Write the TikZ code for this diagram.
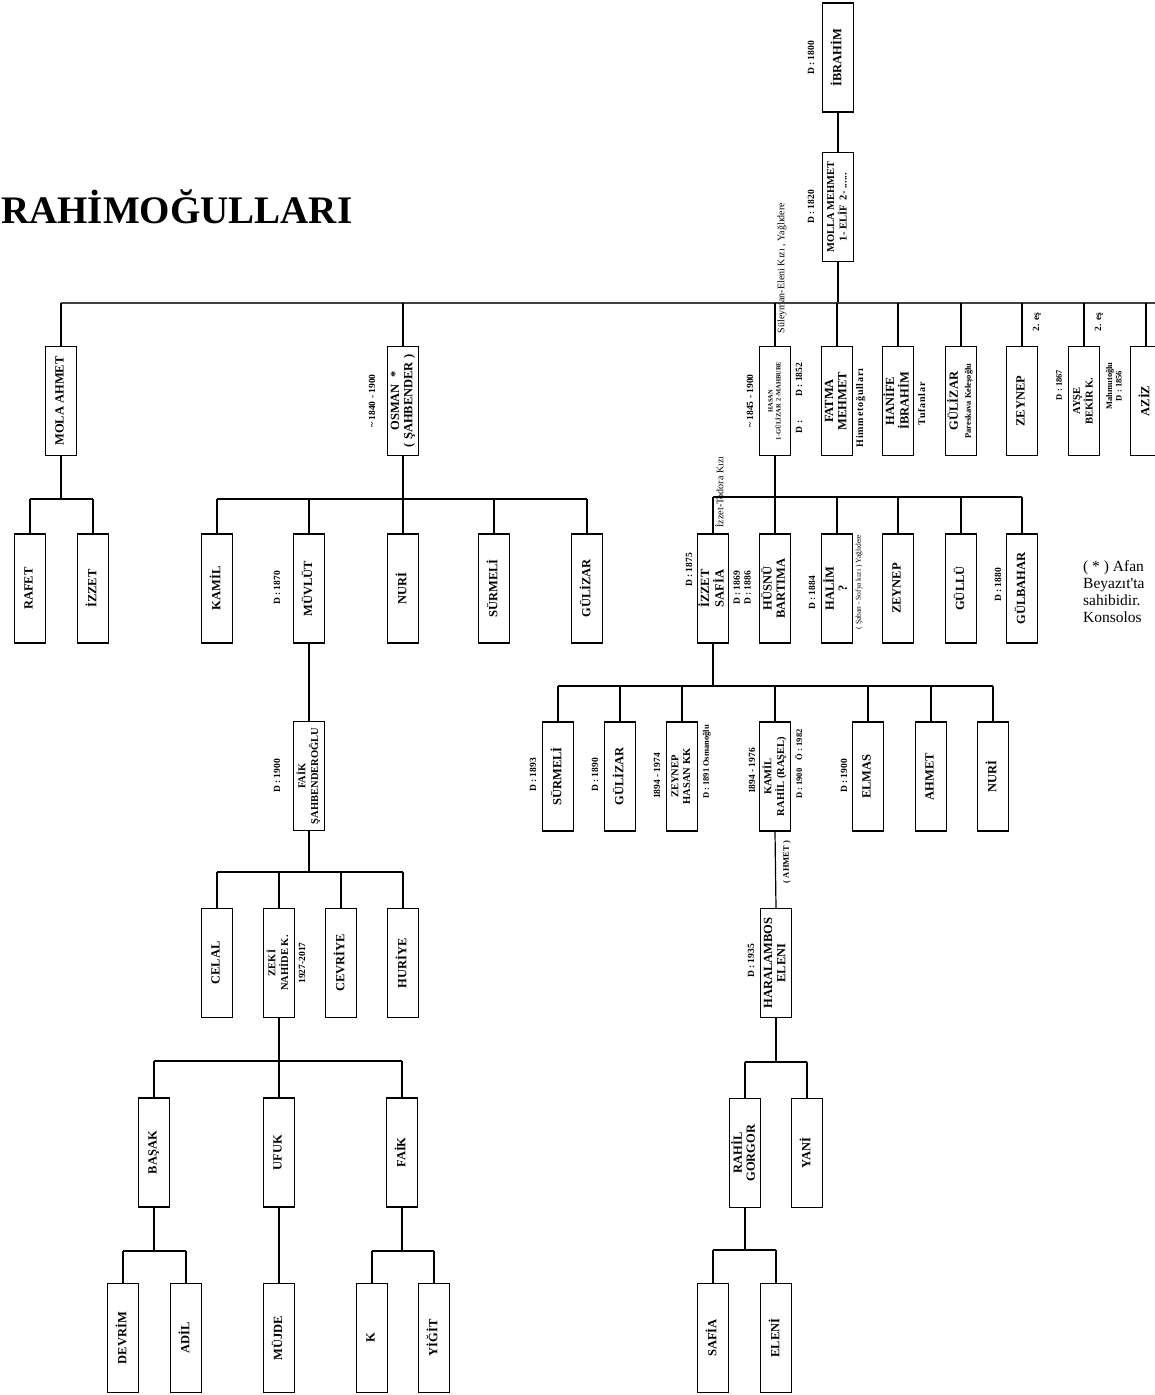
\documentclass[tikz,border=0pt]{standalone}
\usepackage{fontspec}
\setmainfont{Liberation Serif}
\usepackage{graphicx}
\newcommand{\fnName}{\bfseries\fontsize{12.5}{13.5}\selectfont}
\newcommand{\fnMid}{\bfseries\fontsize{10.5}{12}\selectfont}
\newcommand{\fnDate}{\bfseries\fontsize{9.5}{11}\selectfont}
\newcommand{\fnSmall}{\bfseries\fontsize{8.5}{9.5}\selectfont}
\newcommand{\fnTiny}{\bfseries\fontsize{6.5}{8}\selectfont}
\newcommand{\fnNote}{\fontsize{10}{12}\selectfont}
\newcommand{\fnNoteSmall}{\fontsize{7.5}{9}\selectfont}
\newcommand{\fnSpaced}{\bfseries\fontsize{10}{11}\selectfont\addfontfeatures{LetterSpace=8}}
\newcommand{\vtext}[2][\fnName]{\rotatebox{90}{#1\begin{tabular}{@{}c@{}}#2\end{tabular}}}
\renewcommand{\arraystretch}{0.98}
\tikzset{
  box/.style={draw, line width=1.2pt, minimum width=31pt, minimum height=109pt, inner sep=0pt, fill=white},
  lbl/.style={inner sep=0pt},
  conn/.style={line width=1.2pt},
  topbus/.style={line width=1.6pt, draw=black!75},
}
\begin{document}
\begin{tikzpicture}[x=1pt,y=-1pt]
\useasboundingbox (0,0) rectangle (1155,1395);

% title
\node[anchor=base west, inner sep=0pt, font=\bfseries\fontsize{39}{41}\selectfont] (title) at (1,223) {RAHİMOĞULLARI};

% footnote
\node[anchor=base west, inner sep=0pt, font=\fontsize{15.5}{17}\selectfont] (fn1) at (1083,571) {( * ) Afan};
\node[anchor=base west, inner sep=0pt, font=\fontsize{15.5}{17}\selectfont] (fn2) at (1083,588) {Beyazıt\textquotesingle ta};
\node[anchor=base west, inner sep=0pt, font=\fontsize{15.5}{17}\selectfont] (fn3) at (1083,605) {sahibidir.};
\node[anchor=base west, inner sep=0pt, font=\fontsize{15.5}{17}\selectfont] (fn4) at (1083,622) {Konsolos};

% bus coordinates
\coordinate (busA) at (0,303);
\coordinate (busAR) at (1155,303);
\coordinate (busMola) at (0,499);
\coordinate (busOsman) at (0,499);
\coordinate (busHasan) at (0,497);
\coordinate (busIzzet) at (0,686);
\coordinate (busFaik) at (0,872);
\coordinate (busZeki) at (0,1061);
\coordinate (busHaral) at (0,1062);
\coordinate (busBasak) at (0,1251);
\coordinate (busFaikB) at (0,1251);
\coordinate (busRahil) at (0,1250);

% level 0
\node[box] (ibrahim) at (838,57.5) {\vtext{İBRAHİM}};
\node[lbl] (ibrahimD) at (812,58) {\vtext[\fnDate]{D : 1800}};
\node[box] (molla) at (838,207) {\vtext[\fnMid]{MOLLA MEHMET\\1- ELİF~~2- ......}};
\node[lbl] (mollaD) at (812,207) {\vtext[\fnDate]{D : 1820}};
\node[lbl] (suleyman) at (782,268) {\vtext[\fnNote]{Süleyman-Eleni Kızı , Yağlıdere}};

% level 1
\node[box] (mola) at (61,401) {\vtext{MOLA AHMET}};
\node[box] (osman) at (403,401) {\vtext{OSMAN~~*\\( ŞAHBENDER )}};
\node[lbl] (osmanD) at (373,401) {\vtext[\fnDate]{\textasciitilde{} 1840 - 1900}};
\node[box] (hasan) at (775,401) {\vtext[\fnTiny]{HASAN\\1-GÜLİZAR~~2-MAHBUBE}};
\node[lbl] (hasanL) at (751,401) {\vtext[\fnDate]{\textasciitilde{} 1845 - 1900}};
\node[lbl] (hasanR) at (800,398) {\vtext[\fnDate]{D :\hspace{24pt}D : 1852}};
\node[box] (fatma) at (837,401) {\vtext{FATMA\\MEHMET}};
\node[lbl] (fatmaR) at (861,408) {\vtext[\fnSpaced]{Himmetoğulları}};
\node[box] (hanife) at (898,401) {\vtext{HANİFE\\İBRAHİM}};
\node[lbl] (hanifeR) at (923,404) {\vtext[\fnSpaced]{Tufanlar}};
\node[box] (gulizarA) at (961,401) {\vtext{GÜLİZAR\\{\fnSmall Pareskava Keleşoğlu}}};
\node[box] (zeynepA) at (1022,401) {\vtext{ZEYNEP}};
\node[lbl] (zeynepE) at (1037,322) {\vtext[\fnDate]{2. eş}};
\node[box] (ayse) at (1084,401) {\vtext[\fnMid]{AYŞE\\BEKİR K.}};
\node[lbl] (ayseL) at (1060,385) {\vtext[\fnSmall]{D : 1867}};
\node[lbl] (ayseR) at (1115,386) {\vtext[\fnSmall]{Mahmutoğlu\\D : 1856}};
\node[lbl] (ayseE) at (1099,322) {\vtext[\fnDate]{2. eş}};
\node[box] (aziz) at (1146,401) {\vtext{AZİZ}};

% level 2
\node[box] (rafet) at (30,588.5) {\vtext{RAFET}};
\node[box] (izzetA) at (93,588.5) {\vtext{İZZET}};
\node[box] (kamilA) at (217,588.5) {\vtext{KAMİL}};
\node[box] (muvlut) at (309,588.5) {\vtext{MÜVLÜT}};
\node[lbl] (muvlutD) at (278,588) {\vtext[\fnDate]{D : 1870}};
\node[box] (nuriA) at (403,588.5) {\vtext{NURİ}};
\node[box] (surmeliA) at (494,588.5) {\vtext{SÜRMELİ}};
\node[box] (gulizarB) at (587,588.5) {\vtext{GÜLİZAR}};
\node[box] (izzetB) at (713,588.5) {\vtext{İZZET\\SAFİA}};
\node[lbl] (izzetBL) at (690,570) {\vtext[\fnDate]{D : 1875}};
\node[lbl] (izzetBR) at (743,588) {\vtext[\fnDate]{D : 1869\\D : 1886}};
\node[lbl] (todora) at (721,492) {\vtext[\fnNote]{İzzet-Todora Kızı}};
\node[box] (husnu) at (775,588.5) {\vtext{HÜSNÜ\\BARTIMA}};
\node[box] (halim) at (837,588.5) {\vtext{HALİM\\?}};
\node[lbl] (halimL) at (813,593) {\vtext[\fnDate]{D : 1884}};
\node[lbl] (halimR) at (859,582) {\vtext[\fnNoteSmall]{( Şaban - Sofya kızı ) Yağlıdere}};
\node[box] (zeynepB) at (898,588.5) {\vtext{ZEYNEP}};
\node[box] (gullu) at (961,588.5) {\vtext{GÜLLÜ}};
\node[box] (gulbahar) at (1022,588.5) {\vtext{GÜLBAHAR}};
\node[lbl] (gulbaharD) at (999,585) {\vtext[\fnDate]{D : 1880}};

% level 3
\node[box] (faikA) at (309,776) {\vtext[\fnMid]{FAİK\\ŞAHBENDEROĞLU}};
\node[lbl] (faikAD) at (278,776) {\vtext[\fnDate]{D : 1900}};
\node[box] (surmeliB) at (558,776.5) {\vtext{SÜRMELİ}};
\node[lbl] (surmeliBD) at (534,775) {\vtext[\fnDate]{D : 1893}};
\node[box] (gulizarC) at (620,776.5) {\vtext{GÜLİZAR}};
\node[lbl] (gulizarCD) at (596,775) {\vtext[\fnDate]{D : 1890}};
\node[box] (zeynepC) at (682,776.5) {\vtext[\fnMid]{ZEYNEP\\HASAN KK}};
\node[lbl] (zeynepCL) at (658,776) {\vtext[\fnDate]{1894 - 1974}};
\node[lbl] (zeynepCR) at (707,762) {\vtext[\fnSmall]{D : 1891 Osmanoğlu}};
\node[box] (kamilB) at (775,776.5) {\vtext[\fnMid]{KAMİL\\RAHİL (RAŞEL)}};
\node[lbl] (kamilBL) at (753,771) {\vtext[\fnDate]{1894 - 1976}};
\node[lbl] (kamilBR) at (800,764) {\vtext[\fnSmall]{D : 1900~~~~Ö : 1982}};
\node[box] (elmas) at (868,776.5) {\vtext{ELMAS}};
\node[lbl] (elmasD) at (845,776) {\vtext[\fnDate]{D : 1900}};
\node[box] (ahmet) at (931,776.5) {\vtext{AHMET}};
\node[box] (nuriB) at (993,776.5) {\vtext{NURİ}};

% level 4
\node[box] (celal) at (217,963) {\vtext{CELAL}};
\node[box] (zeki) at (279,963) {\vtext[\fnMid]{ZEKİ\\NAHİDE K.}};
\node[lbl] (zekiR) at (303,963) {\vtext[\fnDate]{1927-2017}};
\node[box] (cevriye) at (341,963) {\vtext{CEVRİYE}};
\node[box] (huriye) at (403,963) {\vtext{HURİYE}};
\node[box] (haral) at (776,963) {\vtext{HARALAMBOS\\ELENI}};
\node[lbl] (haralD) at (752,961) {\vtext[\fnDate]{D : 1935}};
\node[lbl] (haralA) at (787,862) {\vtext[\fnSmall]{( AHMET )}};

% level 5
\node[box] (basak) at (154,1152.5) {\vtext{BAŞAK}};
\node[box] (ufuk) at (279,1152.5) {\vtext{UFUK}};
\node[box] (faikB) at (402,1152.5) {\vtext{FAİK}};
\node[box] (rahil) at (745,1153) {\vtext{RAHİL\\GORGOR}};
\node[box] (yani) at (807,1153) {\vtext{YANİ}};

% level 6
\node[box] (devrim) at (123,1338) {\vtext{DEVRİM}};
\node[box] (adil) at (186,1338) {\vtext{ADİL}};
\node[box] (mujde) at (279,1338) {\vtext{MÜJDE}};
\node[box] (kk) at (372,1338) {\vtext{K}};
\node[box] (yigit) at (434,1338) {\vtext{YİĞİT}};
\node[box] (safia) at (713,1338) {\vtext{SAFİA}};
\node[box] (eleni) at (776,1338) {\vtext{ELENİ}};

% connectors
\draw[conn] (ibrahim.south) -- (molla.north);
\draw[conn] (molla.south) -- (molla.south |- busA);
\draw[topbus] (mola.north |- busA) -- (busAR);
\foreach \n in {mola,osman,hasan,fatma,hanife,gulizarA,zeynepA,ayse,aziz}
  \draw[conn] (\n.north) -- (\n.north |- busA);

\draw[conn] (mola.south) -- (mola.south |- busMola);
\draw[conn] (rafet.north |- busMola) -- (izzetA.north |- busMola);
\foreach \n in {rafet,izzetA} \draw[conn] (\n.north) -- (\n.north |- busMola);

\draw[conn] (osman.south) -- (osman.south |- busOsman);
\draw[conn] (kamilA.north |- busOsman) -- (gulizarB.north |- busOsman);
\foreach \n in {kamilA,muvlut,nuriA,surmeliA,gulizarB} \draw[conn] (\n.north) -- (\n.north |- busOsman);

\draw[conn] (hasan.south) -- (hasan.south |- busHasan);
\draw[conn] (izzetB.north |- busHasan) -- (gulbahar.north |- busHasan);
\foreach \n in {izzetB,husnu,halim,zeynepB,gullu,gulbahar} \draw[conn] (\n.north) -- (\n.north |- busHasan);

\draw[conn] (muvlut.south) -- (faikA.north);

\draw[conn] (izzetB.south) -- (izzetB.south |- busIzzet);
\draw[conn] (surmeliB.north |- busIzzet) -- (nuriB.north |- busIzzet);
\foreach \n in {surmeliB,gulizarC,zeynepC,kamilB,elmas,ahmet,nuriB} \draw[conn] (\n.north) -- (\n.north |- busIzzet);

\draw[conn] (faikA.south) -- (faikA.south |- busFaik);
\draw[conn] (celal.north |- busFaik) -- (huriye.north |- busFaik);
\foreach \n in {celal,zeki,cevriye,huriye} \draw[conn] (\n.north) -- (\n.north |- busFaik);

\draw[conn] (kamilB.south) -- (haral.north);

\draw[conn] (zeki.south) -- (zeki.south |- busZeki);
\draw[conn] (basak.north |- busZeki) -- (faikB.north |- busZeki);
\foreach \n in {basak,ufuk,faikB} \draw[conn] (\n.north) -- (\n.north |- busZeki);

\draw[conn] (haral.south) -- (haral.south |- busHaral);
\draw[conn] (rahil.north |- busHaral) -- (yani.north |- busHaral);
\foreach \n in {rahil,yani} \draw[conn] (\n.north) -- (\n.north |- busHaral);

\draw[conn] (basak.south) -- (basak.south |- busBasak);
\draw[conn] (devrim.north |- busBasak) -- (adil.north |- busBasak);
\foreach \n in {devrim,adil} \draw[conn] (\n.north) -- (\n.north |- busBasak);

\draw[conn] (ufuk.south) -- (mujde.north);

\draw[conn] (faikB.south) -- (faikB.south |- busFaikB);
\draw[conn] (kk.north |- busFaikB) -- (yigit.north |- busFaikB);
\foreach \n in {kk,yigit} \draw[conn] (\n.north) -- (\n.north |- busFaikB);

\draw[conn] (rahil.south) -- (rahil.south |- busRahil);
\draw[conn] (safia.north |- busRahil) -- (eleni.north |- busRahil);
\foreach \n in {safia,eleni} \draw[conn] (\n.north) -- (\n.north |- busRahil);
\end{tikzpicture}
\end{document}
